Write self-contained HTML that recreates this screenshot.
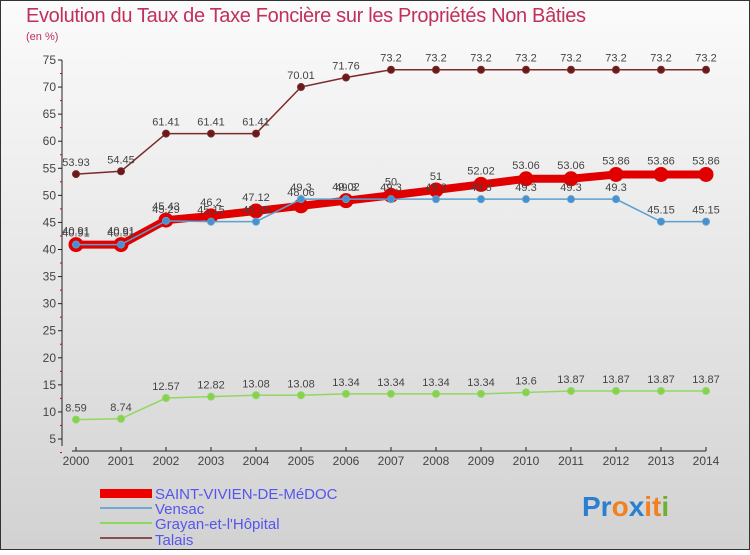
<!DOCTYPE html>
<html><head><meta charset="utf-8"><style>
body{margin:0;width:750px;height:550px;overflow:hidden;font-family:"Liberation Sans",sans-serif}
</style></head><body>
<svg id="c" width="750" height="550" xmlns="http://www.w3.org/2000/svg">
<defs><linearGradient id="bg" x1="0" y1="0" x2="0" y2="1"><stop offset="0" stop-color="#fbfbfb"/><stop offset="1" stop-color="#d2d2d2"/></linearGradient></defs>
<rect x="0.5" y="0.5" width="749" height="549" fill="url(#bg)" stroke="#333"/>
<text x="26" y="22" font-size="20" fill="#c0305a" textLength="560">Evolution du Taux de Taxe Foncière sur les Propriétés Non Bâties</text>
<text x="26" y="40" font-size="11" fill="#c0305a">(en %)</text>
<g id="axes"></g><g id="series"></g>
<g font-size="15" fill="#5555ee">
<rect x="100" y="489" width="52" height="9" fill="#e00"/>
<text x="155" y="499">SAINT-VIVIEN-DE-MéDOC</text>
<rect x="100" y="507" width="52" height="2" fill="#6fa8d0"/>
<text x="155" y="514">Vensac</text>
<rect x="100" y="522" width="52" height="2" fill="#8fd860"/>
<text x="155" y="529">Grayan-et-l'Hôpital</text>
<rect x="100" y="537" width="52" height="2" fill="#8a5050"/>
<text x="155" y="545">Talais</text>
</g>
<text x="582" y="516" font-size="28" font-weight="bold"><tspan fill="#2a7fd0">Pr</tspan><tspan fill="#f08020">o</tspan><tspan fill="#2a7fd0">x</tspan><tspan fill="#f08020">it</tspan><tspan fill="#70b030">i</tspan></text>
</svg>
<script>
const years=[2000,2001,2002,2003,2004,2005,2006,2007,2008,2009,2010,2011,2012,2013,2014];
const yTicks=[5,10,15,20,25,30,35,40,45,50,55,60,65,70,75];
const saintVivien=[40.91,40.91,45.43,46.2,47.12,48.06,49.02,50,51,52.02,53.06,53.06,53.86,53.86,53.86];
const vensac=[40.91,40.91,45.29,45.15,45.15,49.3,49.3,49.3,49.3,49.3,49.3,49.3,49.3,45.15,45.15];
const grayan=[8.59,8.74,12.57,12.82,13.08,13.08,13.34,13.34,13.34,13.34,13.6,13.87,13.87,13.87,13.87];
const talais=[53.93,54.45,61.41,61.41,61.41,70.01,71.76,73.2,73.2,73.2,73.2,73.2,73.2,73.2,73.2];
const NS="http://www.w3.org/2000/svg";
const X=i=>76+i*45, Y=v=>439-(v-5)*(379/70);
function mk(t,a,p){const e=document.createElementNS(NS,t);for(const k in a)e.setAttribute(k,a[k]);p.appendChild(e);return e;}
const ax=document.getElementById('axes');
let yl=mk('line',{x1:62,y1:Y(75),x2:62,y2:446,stroke:'#222'},ax);


yTicks.forEach(v=>{mk('line',{x1:58,x2:62,y1:Y(v),y2:Y(v),stroke:'#222'},ax);
mk('line',{x1:60,x2:62,y1:Y(v-2.5),y2:Y(v-2.5),stroke:'#d00'},ax);
const t=mk('text',{x:56,y:Y(v)+4,'text-anchor':'end','font-size':12,fill:'#444'},ax);t.textContent=v;

});
let xl=mk('line',{x1:72,y1:451,x2:706,y2:451,stroke:'#222'},ax);


years.forEach((yr,i)=>{mk('line',{x1:X(i),x2:X(i),y1:447,y2:451,stroke:'#222'},ax);
const t=mk('text',{x:X(i),y:465,'text-anchor':'middle','font-size':12,fill:'#444'},ax);t.textContent=yr;

});
const sg=document.getElementById('series');
function draw(name,data,col,w,r,dot,lblOff){
const g=mk('g',{},sg);


const p=mk('polyline',{points:data.map((v,i)=>X(i)+','+Y(v)).join(' '),fill:'none',stroke:col,'stroke-width':w},g);


data.forEach((v,i)=>{const c=mk('circle',{cx:X(i),cy:Y(v),r:r,fill:dot,stroke:col,'stroke-width':1},g);


const t=mk('text',{x:X(i),y:Y(v)+lblOff,'text-anchor':'middle','font-size':11,fill:'#444'},g);t.textContent=v;

});}
draw('talais',talais,'#7a2a2a',1.5,3.5,'#6a1a1a',-8);
draw('grayan',grayan,'#90d860',1.5,3.5,'#88d050',-8);
draw('saint-vivien',saintVivien,'#e00000',8,7,'#e00000',-10);
draw('vensac',vensac,'#5aa0d0',1.5,3.5,'#4a90d0',-8);
</script>
</body></html>
